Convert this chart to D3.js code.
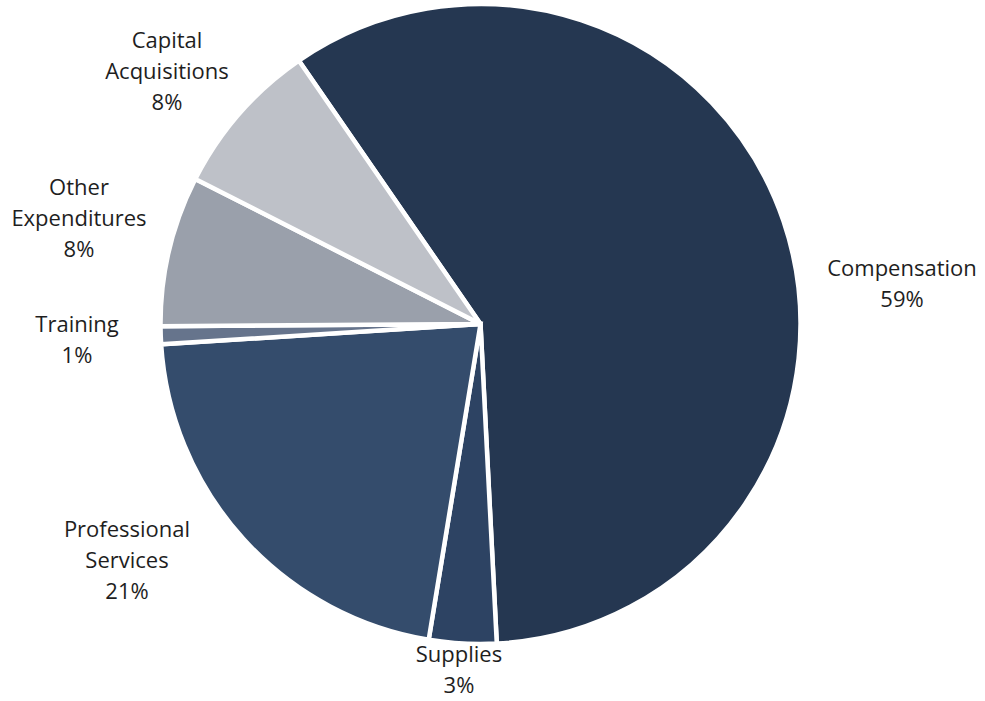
<!DOCTYPE html>
<html>
<head>
<meta charset="utf-8">
<script src="https://cdn.jsdelivr.net/npm/d3@7"></script>
<style>
  html, body { margin: 0; padding: 0; background: #ffffff; }
  svg { display: block; }
  text { font-family: "Segoe UI", "Open Sans", "Noto Sans", sans-serif; fill: #1e1e1e; }
</style>
</head>
<body>
<svg id="chart" width="985" height="701"></svg>
<script>
// Expenditure categories, listed clockwise from the top-left
const categories = ["Compensation", "Supplies", "Professional Services", "Training", "Other Expenditures", "Capital Acquisitions"];
// Share of total spending, percent
const shares = [58.8, 3.4, 21.4, 0.9, 7.6, 7.9];
// Label lines (category names broken for wrapping)
const labelLines = [["Compensation"], ["Supplies"], ["Professional", "Services"], ["Training"], ["Other", "Expenditures"], ["Capital", "Acquisitions"]];
const sliceColors = ["#253751", "#2d4363", "#344c6c", "#66748c", "#9aa0ab", "#bec1c8"];

// Label anchors: centre x and first baseline y
const labelAnchors = {
  "Compensation": [902, 276],
  "Supplies": [459, 662],
  "Professional Services": [127, 537],
  "Training": [77, 332],
  "Other Expenditures": [79, 195],
  "Capital Acquisitions": [167, 48]
};

const cx = 480.5, cy = 324, radius = 320;
const lineGap = 31;

const data = categories.map((c, i) => ({ name: c, value: shares[i], lines: labelLines[i], color: sliceColors[i] }));

const svg = d3.select("#chart");
const g = svg.append("g").attr("transform", `translate(${cx},${cy})`);

const start = -34.6 * Math.PI / 180;
const pie = d3.pie().sort(null).value(d => d.value).startAngle(start).endAngle(start + 2 * Math.PI);
const arc = d3.arc().innerRadius(0).outerRadius(radius);

g.selectAll("path.slice")
  .data(pie(data))
  .join("path")
  .attr("class", "slice")
  .attr("d", arc)
  .attr("fill", d => d.data.color)
  .attr("stroke", "#ffffff")
  .attr("stroke-width", 4.5)
  .attr("stroke-linejoin", "miter");

const pct = d3.format(".0f");

const labels = svg.selectAll("text.label")
  .data(data)
  .join("text")
  .attr("class", "label")
  .attr("text-anchor", "middle")
  .attr("font-size", 22)
  .attr("x", d => labelAnchors[d.name][0])
  .attr("y", d => labelAnchors[d.name][1]);

labels.each(function(d) {
  const t = d3.select(this);
  const [x, y] = labelAnchors[d.name];
  const rows = d.lines.concat([pct(d.value) + "%"]);
  rows.forEach((r, i) => {
    t.append("tspan").attr("x", x).attr("y", y + i * lineGap).text(r);
  });
});
</script>
</body>
</html>
